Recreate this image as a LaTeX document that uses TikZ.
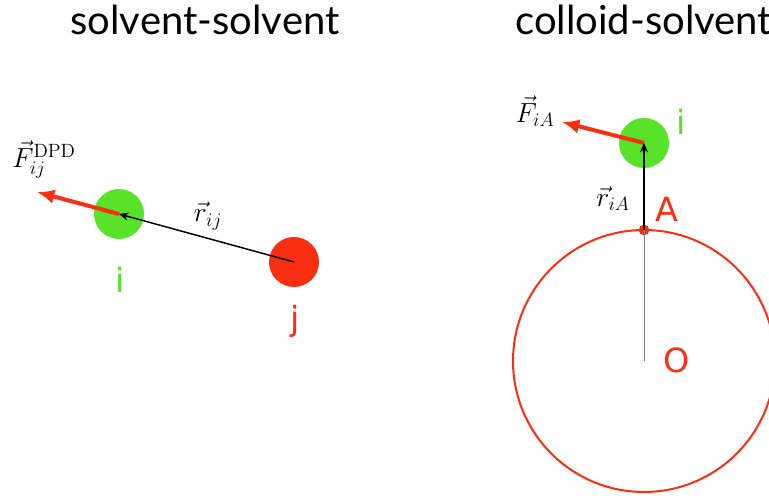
\documentclass[tikz,border=0pt]{standalone}
\usepackage{fontspec}
\usepackage{amsmath}
\usetikzlibrary{arrows.meta, positioning}
\newfontfamily\titlefont{Lato}
\newfontfamily\labelfont{DejaVu Sans}
\definecolor{solvgreen}{RGB}{88,226,40}
\definecolor{partred}{RGB}{250,46,18}

\begin{document}
\begin{tikzpicture}[
    x=0.75pt, y=-0.75pt,
    particle/.style = {circle, minimum size=37.5pt, inner sep=0pt},
    solv/.style     = {particle, fill=solvgreen},
    other/.style    = {particle, fill=partred},
    title/.style    = {font=\titlefont\fontsize{30}{34}\selectfont, inner sep=0pt},
    lbl/.style      = {font=\labelfont\fontsize{25}{30}\selectfont, inner sep=0pt},
    mlbl/.style     = {font=\fontsize{20.74}{25}\selectfont, inner sep=0pt},
    force/.style    = {-{Latex[length=13pt, width=11pt]}, line width=3pt, partred},
    sep/.style      = {-{Stealth[length=7pt, width=6pt]}, line width=1.1pt, black},
]

\useasboundingbox (0,0) rectangle (769,498);
\clip (0,0) rectangle (769,498);

%% ---- Titles ----

\node[title, anchor=base]      (t1) at (205, 35) {solvent-solvent};
\node[title, anchor=base west] (t2) at (515, 35) {colloid-solvent};

%% ---- Left: solvent-solvent pair ----

\node[solv]  (pi) at (119, 214) {};
\node[other] (pj) at (294, 262) {};
\coordinate (fi) at (37, 192);

\draw[force] (pi.center) -- (fi);
\draw[sep]   (pj.center) -- (pi.center);

\node[lbl, solvgreen, anchor=base] (li) at (120, 293) {i};
\node[lbl, partred,   anchor=base] (lj) at (295, 331) {j};

\node[mlbl] (lF)  at (44, 160)  {$\vec{F}_{ij}^{\mathrm{DPD}}$};
\node[mlbl] (lr)  at (208, 216) {$\vec{r}_{ij}$};

%% ---- Right: colloid-solvent pair ----

\coordinate (O) at (644, 361);
\draw[partred, line width=1.5pt] (O) circle[radius=131];

\node[solv] (ci) at (644, 143) {};
\node[circle, fill=partred, minimum size=8pt, inner sep=0pt] (A) at (644, 230) {};
\coordinate (fA) at (562, 122);

\draw[gray, line width=0.6pt] (A.center) -- (O);
\draw[force] (ci.center) -- (fA);
\draw[sep]   (A.center) -- (ci.center);

\node[lbl, solvgreen, anchor=base] (ri) at (681, 135) {i};
\node[lbl, partred,   anchor=base] (rA) at (667, 222) {A};
\node[lbl, partred,   anchor=base] (rO) at (677, 373) {O};

\node[mlbl] (lFA) at (535, 111) {$\vec{F}_{iA}$};
\node[mlbl] (lrA) at (613, 199) {$\vec{r}_{iA}$};

\end{tikzpicture}
\end{document}
